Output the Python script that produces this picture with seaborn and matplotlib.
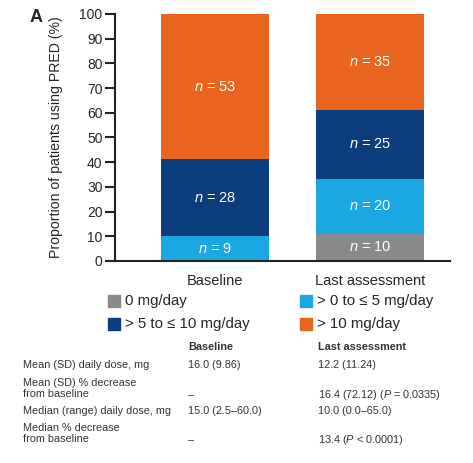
import matplotlib
matplotlib.use("Agg")
import matplotlib.pyplot as plt
import seaborn as sns
import pandas as pd
import numpy as np
from matplotlib.patches import Rectangle

sns.set_style("white")
plt.rcParams['font.family'] = ['Liberation Sans', 'DejaVu Sans']
plt.rcParams['mathtext.fontset'] = 'custom'
plt.rcParams['mathtext.rm'] = 'Liberation Sans'
plt.rcParams['mathtext.it'] = 'Liberation Sans:italic'
plt.rcParams['mathtext.bf'] = 'Liberation Sans:bold'

timepoints = ["Baseline", "Last assessment"]
categories = ["0 mg/day", "> 0 to \u2264 5 mg/day", "> 5 to \u2264 10 mg/day", "> 10 mg/day"]
colors = ["#8a8a8a", "#1ba7e1", "#0c3d7c", "#e8641f"]
# percentages (stacked from bottom)
pct_baseline = [0.0, 10.0, 31.1, 58.9]
pct_last = [11.1, 22.2, 27.8, 38.9]
n_baseline = [0, 9, 28, 53]
n_last = [10, 20, 25, 35]

table_cols = ["Baseline", "Last assessment"]
table_rows = ["Mean (SD) daily dose, mg", "Mean (SD) % decrease\nfrom baseline",
              "Median (range) daily dose, mg", "Median % decrease\nfrom baseline"]
table_base = ["16.0 (9.86)", "\u2013", "15.0 (2.5\u201360.0)", "\u2013"]
table_last = ["12.2 (11.24)", "16.4 (72.12) ($\\it{P}$ = 0.0335)", "10.0 (0.0\u201365.0)", "13.4 ($\\it{P}$ < 0.0001)"]

rows = []
for tp, pcts, ns in [(timepoints[0], pct_baseline, n_baseline), (timepoints[1], pct_last, n_last)]:
    cum = np.cumsum(pcts)
    for i, c in enumerate(categories):
        rows.append(dict(tp=tp, cat=c, pct=pcts[i], cum=cum[i], n=ns[i], low=cum[i] - pcts[i]))
df = pd.DataFrame(rows)

fig = plt.figure(figsize=(4.73, 4.63), dpi=100)
ax = fig.add_axes([0.243, 0.4363, 0.708, 0.5335])

# draw cumulative bars from top down so they stack
for i in reversed(range(len(categories))):
    sub = df[df.cat == categories[i]]
    sns.barplot(data=sub, x="tp", y="cum", order=timepoints, color=colors[i],
                width=0.7, ax=ax, saturation=1, linewidth=0, errorbar=None)

for _, r in df.iterrows():
    if r.n > 0:
        xi = timepoints.index(r.tp)
        ax.text(xi, r.low + r.pct / 2, f"$\\it{{n}}$ = {r.n}", ha="center", va="center",
                color="white", fontsize=10.5)

ax.set_xlim(-0.645, 1.516)
ax.set_ylim(0, 100)
ax.set_yticks(range(0, 101, 10))
ax.tick_params(axis="y", left=True, length=7, width=1.5, labelsize=10, pad=2, color="#222")
ax.tick_params(axis="x", bottom=False, labelsize=10.5, pad=6)
ax.set_xlabel("")
ax.set_ylabel("Proportion of patients using PRED (%)", fontsize=10.2)
ax.yaxis.set_label_coords(-0.155, 0.5)
for s in ["top", "right"]:
    ax.spines[s].set_visible(False)
for s in ["left", "bottom"]:
    ax.spines[s].set_color("#222")
    ax.spines[s].set_linewidth(1.5)

fig.text(36 / 473, 1 - 17 / 463, "A", fontsize=13, fontweight="bold", ha="center", va="center")

# legend
leg_pos = [(108, 301), (300, 301), (108, 324), (300, 324)]
for (px, py), lab, col in zip(leg_pos, categories, colors):
    fig.patches.append(Rectangle((px / 473, 1 - (py + 6) / 463), 12 / 473, 12 / 463,
                                 transform=fig.transFigure, color=col, figure=fig))
    fig.text((px + 17) / 473, 1 - py / 463, lab, fontsize=10.8, va="center", ha="left")

# table
tfs = 7.8
tcol = "#333333"
fig.text(188 / 473, 1 - 347 / 463, table_cols[0], fontsize=tfs, fontweight="bold", va="center", color=tcol)
fig.text(318 / 473, 1 - 347 / 463, table_cols[1], fontsize=tfs, fontweight="bold", va="center", color=tcol)
row_y = [365, 388.5, 411, 433.5]
for y, lab, b, l in zip(row_y, table_rows, table_base, table_last):
    two = "\n" in lab
    fig.text(23 / 473, 1 - y / 463, lab, fontsize=tfs, va="center", linespacing=1.2, color=tcol)
    yv = y + 6.5 if two else y
    fig.text(188 / 473, 1 - yv / 463, b, fontsize=tfs, va="center", color=tcol)
    fig.text(318 / 473, 1 - yv / 463, l, fontsize=tfs, va="center", color=tcol)

fig.savefig("out.png", dpi=100)
